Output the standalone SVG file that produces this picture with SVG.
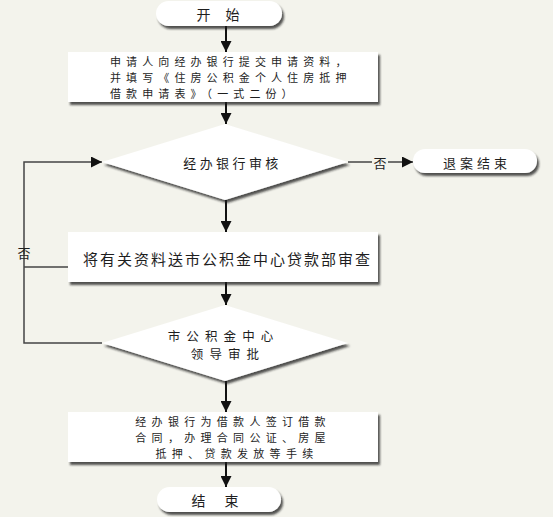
<svg xmlns="http://www.w3.org/2000/svg" width="553" height="517" viewBox="0 0 553 517">
<defs>
<filter id="sh" x="-10%" y="-20%" width="125%" height="150%">
<feDropShadow dx="2" dy="3" stdDeviation="1.3" flood-color="#1e1e1e" flood-opacity="0.75"/>
</filter>
<marker id="ah" viewBox="0 0 10 10" markerUnits="userSpaceOnUse" markerWidth="12" markerHeight="11" refX="10" refY="5" orient="auto">
<path d="M0,0 L10,5 L0,10 z" fill="#111"/>
</marker>
</defs>
<style>
.shape{fill:#ffffff;filter:url(#sh);}
.t{font-family:"Noto Sans CJK SC","Noto Sans",sans-serif;fill:#1e1e1e;dominant-baseline:central;}
.c{stroke:#111;stroke-width:2;fill:none;}
.l{stroke:#444;stroke-width:1.5;fill:none;}
</style>
<rect width="553" height="517" fill="#f3f3ec"/>

<g id="connectors">
<line class="c" x1="226" y1="26" x2="226" y2="52" marker-end="url(#ah)"/>
<line class="c" x1="226" y1="102" x2="226" y2="124" marker-end="url(#ah)"/>
<line class="c" x1="226" y1="200" x2="226" y2="232" marker-end="url(#ah)"/>
<line class="c" x1="226" y1="282" x2="226" y2="305" marker-end="url(#ah)"/>
<line class="c" x1="226" y1="381" x2="226" y2="412" marker-end="url(#ah)"/>
<line class="c" x1="226" y1="462" x2="226" y2="487" marker-end="url(#ah)"/>
<line class="l" x1="348" y1="162" x2="372" y2="162"/>
<line class="l" x1="388" y1="162" x2="413" y2="162" marker-end="url(#ah)"/>
<text class="t" x="380" y="162" font-size="13" text-anchor="middle">否</text>
<polyline class="l" points="102,343 24,343 24,162 102,162" marker-end="url(#ah)"/>
<line class="l" x1="68" y1="267" x2="24" y2="267"/>
<text class="t" x="24" y="252" font-size="13" text-anchor="middle">否</text>
</g>

<g id="start">
<rect class="shape" x="156" y="1" width="126" height="25" rx="12.5"/>
<text class="t" x="221" y="14" font-size="14" text-anchor="middle" letter-spacing="6" xml:space="preserve">开 始</text>
</g>

<g id="apply">
<rect class="shape" x="68" y="52" width="310" height="50"/>
<text class="t" font-size="11" letter-spacing="5.1">
<tspan x="110" y="60.5">申请人向经办银行提交申请资料，</tspan>
<tspan x="110" y="76.5">并填写《住房公积金个人住房抵押</tspan>
<tspan x="110" y="92.5">借款申请表》（一式二份）</tspan>
</text>
</g>

<g id="bank-review">
<polygon class="shape" points="225,124 348,162 225,200 102,162"/>
<text class="t" x="232.5" y="162" font-size="13" text-anchor="middle" letter-spacing="3.4">经办银行审核</text>
</g>

<g id="reject-end">
<rect class="shape" x="413" y="149" width="124" height="24" rx="12"/>
<text class="t" x="477" y="162" font-size="13" text-anchor="middle" letter-spacing="4">退案结束</text>
</g>

<g id="send-center">
<rect class="shape" x="68" y="232" width="310" height="50"/>
<text class="t" x="227.5" y="258" font-size="15" text-anchor="middle" letter-spacing="2">将有关资料送市公积金中心贷款部审查</text>
</g>

<g id="leader-approve">
<polygon class="shape" points="225,305 348,343 225,381 102,343"/>
<text class="t" font-size="12.5" text-anchor="middle" letter-spacing="6.1">
<tspan x="228" y="334.5">市公积金中心</tspan>
<tspan x="228" y="352.8">领导审批</tspan>
</text>
</g>

<g id="sign-contract">
<rect class="shape" x="68" y="412" width="310" height="50"/>
<text class="t" font-size="11" text-anchor="middle" letter-spacing="5.3">
<tspan x="237" y="421">经办银行为借款人签订借款</tspan>
<tspan x="237" y="437">合同，办理合同公证、房屋</tspan>
<tspan x="237" y="453">抵押、贷款发放等手续</tspan>
</text>
</g>

<g id="end">
<rect class="shape" x="157" y="487" width="124" height="25" rx="12.5"/>
<text class="t" x="219" y="500" font-size="14" text-anchor="middle" letter-spacing="8" xml:space="preserve">结 束</text>
</g>
</svg>
